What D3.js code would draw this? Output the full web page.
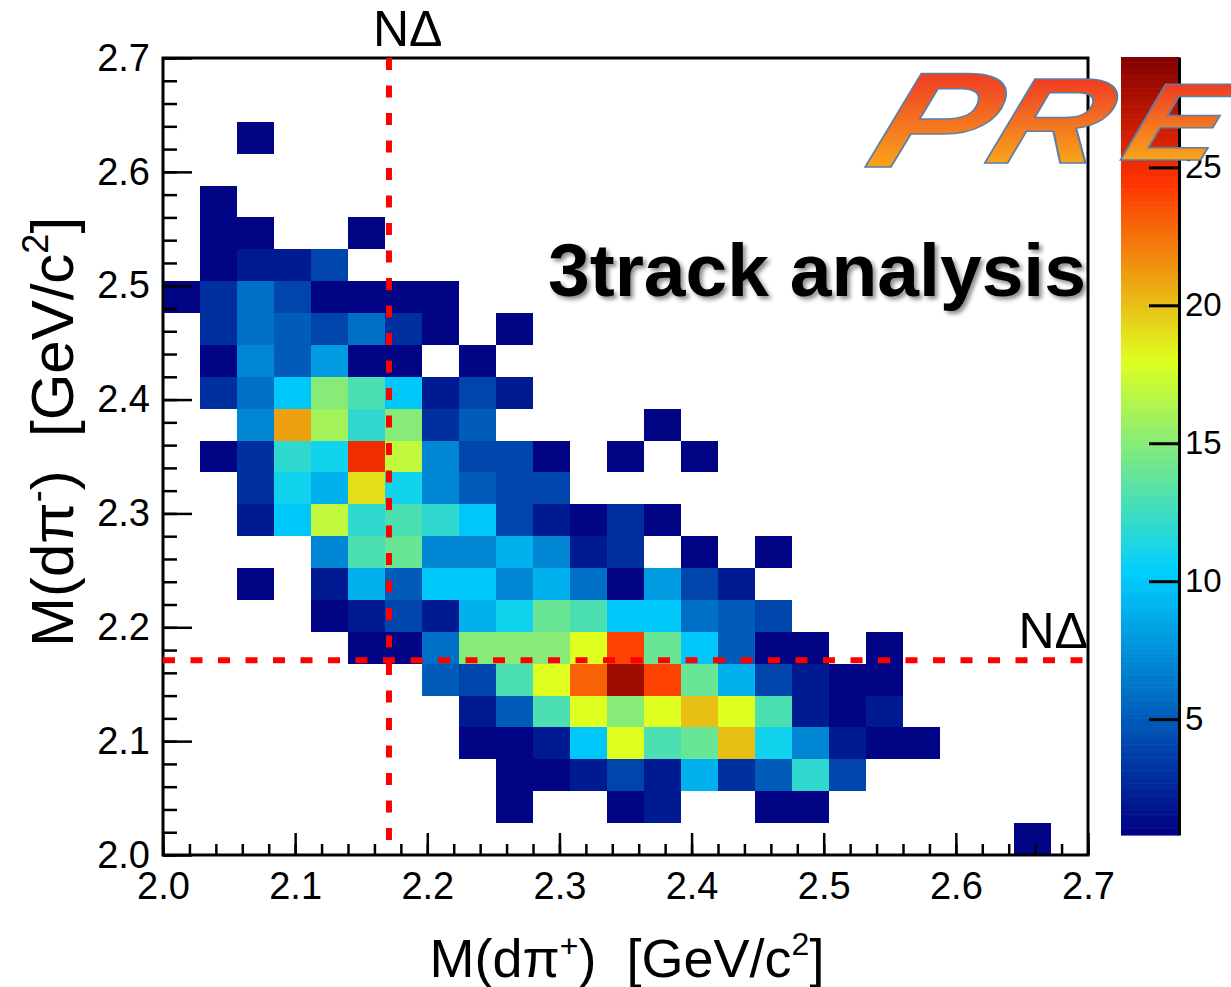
<!DOCTYPE html>
<html>
<head>
<meta charset="utf-8">
<script src="https://cdn.jsdelivr.net/npm/d3@7"></script>
<style>
  body { margin: 0; background: #fff; }
  svg { display: block; font-family: "Liberation Sans", Arial, Helvetica, sans-serif; }
</style>
</head>
<body>
<div class="chart"></div>
<script>
// 2D histogram, 25 x 25 bins from 2.0 to 2.7 on both axes
const binLow = 2.0, binHigh = 2.7, nBins = 25;
const binEdges = d3.range(nBins + 1).map(i => binLow + i * (binHigh - binLow) / nBins);

// counts, rows from the top bin of M(dpi-) down to the lowest one, columns left to right in M(dpi+)
const counts = [
  [0,0,0,0,0,0,0,0,0,0,0,0,0,0,0,0,0,0,0,0,0,0,0,0,0],
  [0,0,0,0,0,0,0,0,0,0,0,0,0,0,0,0,0,0,0,0,0,0,0,0,0],
  [0,0,1,0,0,0,0,0,0,0,0,0,0,0,0,0,0,0,0,0,0,0,0,0,0],
  [0,0,0,0,0,0,0,0,0,0,0,0,0,0,0,0,0,0,0,0,0,0,0,0,0],
  [0,1,0,0,0,0,0,0,0,0,0,0,0,0,0,0,0,0,0,0,0,0,0,0,0],
  [0,1,1,0,0,1,0,0,0,0,0,0,0,0,0,0,0,0,0,0,0,0,0,0,0],
  [0,1,2,2,4,0,0,0,0,0,0,0,0,0,0,0,0,0,0,0,0,0,0,0,0],
  [1,3,6,4,1,1,1,1,0,0,0,0,0,0,0,0,0,0,0,0,0,0,0,0,0],
  [0,3,6,5,4,6,3,1,0,1,0,0,0,0,0,0,0,0,0,0,0,0,0,0,0],
  [0,1,7,5,8,1,1,0,1,0,0,0,0,0,0,0,0,0,0,0,0,0,0,0,0],
  [0,3,6,10,15,13,10,2,4,2,0,0,0,0,0,0,0,0,0,0,0,0,0,0,0],
  [0,0,7,21,16,12,15,3,5,0,0,0,0,1,0,0,0,0,0,0,0,0,0,0,0],
  [0,1,3,12,11,25,17,7,4,4,1,0,1,0,1,0,0,0,0,0,0,0,0,0,0],
  [0,0,3,11,9,19,11,7,5,4,4,0,0,0,0,0,0,0,0,0,0,0,0,0,0],
  [0,0,2,10,17,12,13,12,10,4,2,1,3,1,0,0,0,0,0,0,0,0,0,0,0],
  [0,0,0,0,7,13,14,7,7,9,7,2,3,0,1,0,1,0,0,0,0,0,0,0,0],
  [0,0,1,0,2,9,5,10,10,7,9,6,1,8,4,2,0,0,0,0,0,0,0,0,0],
  [0,0,0,0,1,2,4,2,9,11,14,13,10,10,6,5,4,0,0,0,0,0,0,0,0],
  [0,0,0,0,0,1,1,6,15,15,15,18,24,14,10,5,1,1,0,1,0,0,0,0,0],
  [0,0,0,0,0,0,0,5,4,13,18,23,28,24,14,9,4,2,1,1,0,0,0,0,0],
  [0,0,0,0,0,0,0,0,2,5,13,18,15,18,20,18,13,2,1,2,0,0,0,0,0],
  [0,0,0,0,0,0,0,0,1,1,2,10,18,13,14,20,11,7,2,1,1,0,0,0,0],
  [0,0,0,0,0,0,0,0,0,1,1,2,4,2,9,3,5,12,4,0,0,0,0,0,0],
  [0,0,0,0,0,0,0,0,0,1,0,0,1,2,0,0,1,1,0,0,0,0,0,0,0],
  [0,0,0,0,0,0,0,0,0,0,0,0,0,0,0,0,0,0,0,0,0,0,0,1,0]
];

const xTicks = [2.0, 2.1, 2.2, 2.3, 2.4, 2.5, 2.6, 2.7];
const yTicks = [2.0, 2.1, 2.2, 2.3, 2.4, 2.5, 2.6, 2.7];
const minorStep = 0.02;
const zRange = [0.8, 29];
const zTicks = [5, 10, 15, 20, 25];
const paletteStops = [0.00, 0.34, 0.61, 0.84, 1.00];
const paletteColors = ["#000082", "#00cfff", "#deff1f", "#ff3300", "#820000"];
const ndThreshold = 2.171;   // m_N + m_Delta

let margin = { top: 58, left: 163 },
    width = 925,
    height = 797;

let svg = d3.select(".chart")
  .append("svg")
  .attr("width", 1231)
  .attr("height", 987);

let defs = svg.append("defs");
let shadow = defs.append("filter").attr("id", "shadow")
  .attr("x", "-5%").attr("y", "-10%").attr("width", "115%").attr("height", "130%");
shadow.append("feDropShadow")
  .attr("dx", 3).attr("dy", 3).attr("stdDeviation", 2)
  .attr("flood-color", "#000").attr("flood-opacity", 0.45);

let logoGrad = defs.append("linearGradient").attr("id", "logoGrad")
  .attr("x1", 0).attr("y1", 0).attr("x2", 0).attr("y2", 1);
logoGrad.append("stop").attr("offset", "0%").attr("stop-color", "#ee1c25");
logoGrad.append("stop").attr("offset", "50%").attr("stop-color", "#f37021");
logoGrad.append("stop").attr("offset", "100%").attr("stop-color", "#fcc515");

let g = svg.append("g")
  .attr("transform", "translate(" + margin.left + "," + margin.top + ")");

let x = d3.scaleLinear().domain([binLow, binHigh]).range([0, width]);
let y = d3.scaleLinear().domain([binLow, binHigh]).range([height, 0]);

let z = d3.scaleLinear().domain(zRange).range([835, 57]);
let color = d3.scaleLinear()
  .domain(paletteStops.map(t => zRange[0] + t * (zRange[1] - zRange[0])))
  .range(paletteColors)
  .interpolate(d3.interpolateRgb)
  .clamp(true);

// flatten the table into cells
let cells = [];
counts.forEach((row, r) => {
  let j = nBins - 1 - r;
  row.forEach((v, i) => {
    if (v > 0) cells.push({ i: i, j: j, v: v });
  });
});

g.selectAll(".cell")
  .data(cells)
  .enter()
  .append("rect")
  .attr("class", "cell")
  .attr("x", d => x(binEdges[d.i]))
  .attr("y", d => y(binEdges[d.j + 1]))
  .attr("width", d => x(binEdges[d.i + 1]) - x(binEdges[d.i]))
  .attr("height", d => y(binEdges[d.j]) - y(binEdges[d.j + 1]))
  .attr("fill", d => color(d.v))
  .attr("shape-rendering", "crispEdges");

// axes, ROOT style with ticks inside the frame
let minorTicks = d3.range(0, 36).map(k => binLow + k * minorStep).filter(v => v <= binHigh + 1e-9);

let xMinor = d3.axisBottom(x).tickValues(minorTicks).tickSize(-11).tickFormat("");
let xMajor = d3.axisBottom(x).tickValues(xTicks).tickSize(-22).tickPadding(17).tickFormat(d3.format(".1f"));
let yMinor = d3.axisLeft(y).tickValues(minorTicks).tickSize(-14).tickFormat("");
let yMajor = d3.axisLeft(y).tickValues(yTicks).tickSize(-29).tickPadding(13).tickFormat(d3.format(".1f"));

function styleAxis(sel) {
  sel.select(".domain").remove();
  sel.selectAll("line").attr("stroke", "#000").attr("stroke-width", 2.5);
  sel.selectAll("text").attr("font-size", 38).attr("fill", "#000")
    .attr("font-family", "'Liberation Sans', Arial, sans-serif");
}

g.append("g").attr("transform", "translate(0," + height + ")").call(xMinor).call(styleAxis);
g.append("g").attr("transform", "translate(0," + height + ")").call(xMajor).call(styleAxis);
g.append("g").call(yMinor).call(styleAxis);
g.append("g").call(yMajor).call(styleAxis);

g.append("rect")
  .attr("width", width).attr("height", height)
  .attr("fill", "none").attr("stroke", "#000").attr("stroke-width", 3);

// N Delta threshold lines
g.append("line")
  .attr("x1", x(ndThreshold)).attr("x2", x(ndThreshold))
  .attr("y1", 0).attr("y2", height)
  .attr("stroke", "#ff0000").attr("stroke-width", 6)
  .attr("stroke-dasharray", "12,15.5");
g.append("line")
  .attr("x1", 0).attr("x2", width)
  .attr("y1", y(ndThreshold)).attr("y2", y(ndThreshold))
  .attr("stroke", "#ff0000").attr("stroke-width", 6)
  .attr("stroke-dasharray", "12,15.5");

svg.append("text").attr("x", 373).attr("y", 46)
  .attr("font-size", 50).text("N\u0394");
svg.append("text").attr("x", 1088).attr("y", 648)
  .attr("text-anchor", "end").attr("font-size", 50).text("N\u0394");

// axis titles
let xTitle = svg.append("text")
  .attr("x", 627).attr("y", 977)
  .attr("text-anchor", "middle").attr("font-size", 54)
  .attr("xml:space", "preserve");
xTitle.append("tspan").text("M(d\u03c0");
xTitle.append("tspan").attr("font-size", 32).attr("dy", -20).text("+");
xTitle.append("tspan").attr("dy", 20).text(")  [GeV/c");
xTitle.append("tspan").attr("font-size", 32).attr("dy", -22).text("2");
xTitle.append("tspan").attr("dy", 22).text("]");

let yTitle = svg.append("text")
  .attr("transform", "translate(73,432) rotate(-90)")
  .attr("text-anchor", "middle").attr("font-size", 60)
  .attr("xml:space", "preserve");
yTitle.append("tspan").text("M(d\u03c0");
yTitle.append("tspan").attr("font-size", 36).attr("dy", -24).text("-");
yTitle.append("tspan").attr("dy", 24).text(")  [GeV/c");
yTitle.append("tspan").attr("font-size", 36).attr("dy", -25).text("2");
yTitle.append("tspan").attr("dy", 25).text("]");

// colour bar
let barSteps = d3.range(0, 300).map(k => zRange[0] + (k + 0.5) * (zRange[1] - zRange[0]) / 300);
let stepH = (z.range()[0] - z.range()[1]) / 300;
svg.append("g").selectAll("rect")
  .data(barSteps)
  .enter()
  .append("rect")
  .attr("x", 1121)
  .attr("y", d => z(d) - stepH / 2)
  .attr("width", 58)
  .attr("height", stepH + 0.6)
  .attr("fill", d => color(d));

let zAxis = d3.axisRight(z).tickValues(zTicks).tickSize(-30).tickSizeOuter(0).tickPadding(6);
let zg = svg.append("g").attr("transform", "translate(1179,0)").call(zAxis);
zg.select(".domain").attr("stroke", "#000").attr("stroke-width", 3);
zg.selectAll("line").attr("stroke", "#000").attr("stroke-width", 3);
zg.selectAll("text").attr("font-size", 33).attr("fill", "#000")
  .attr("font-family", "'Liberation Sans', Arial, sans-serif");

// annotation
svg.append("text")
  .attr("x", 548).attr("y", 296)
  .attr("font-size", 75).attr("font-weight", "bold")
  .attr("filter", "url(#shadow)")
  .text("3track analysis");

// PRE logo (the E runs off the right edge, as in the slide)
let logo = [
  { t: "P", x: 862, y: 167, s: 136, k: 1.32 },
  { t: "R", x: 982, y: 163, s: 122, k: 1.3 },
  { t: "E", x: 1118, y: 160, s: 110, k: 1.3 }
];
svg.append("g").selectAll("text")
  .data(logo)
  .enter()
  .append("text")
  .attr("transform", d => "translate(" + d.x + "," + d.y + ") skewX(-19) scale(" + d.k + ",1)")
  .attr("font-size", d => d.s)
  .attr("font-weight", "bold")
  .attr("font-style", "italic")
  .attr("fill", "url(#logoGrad)")
  .attr("stroke", "#5b7fa6")
  .attr("stroke-width", 1.5)
  .text(d => d.t);
</script>
</body>
</html>
